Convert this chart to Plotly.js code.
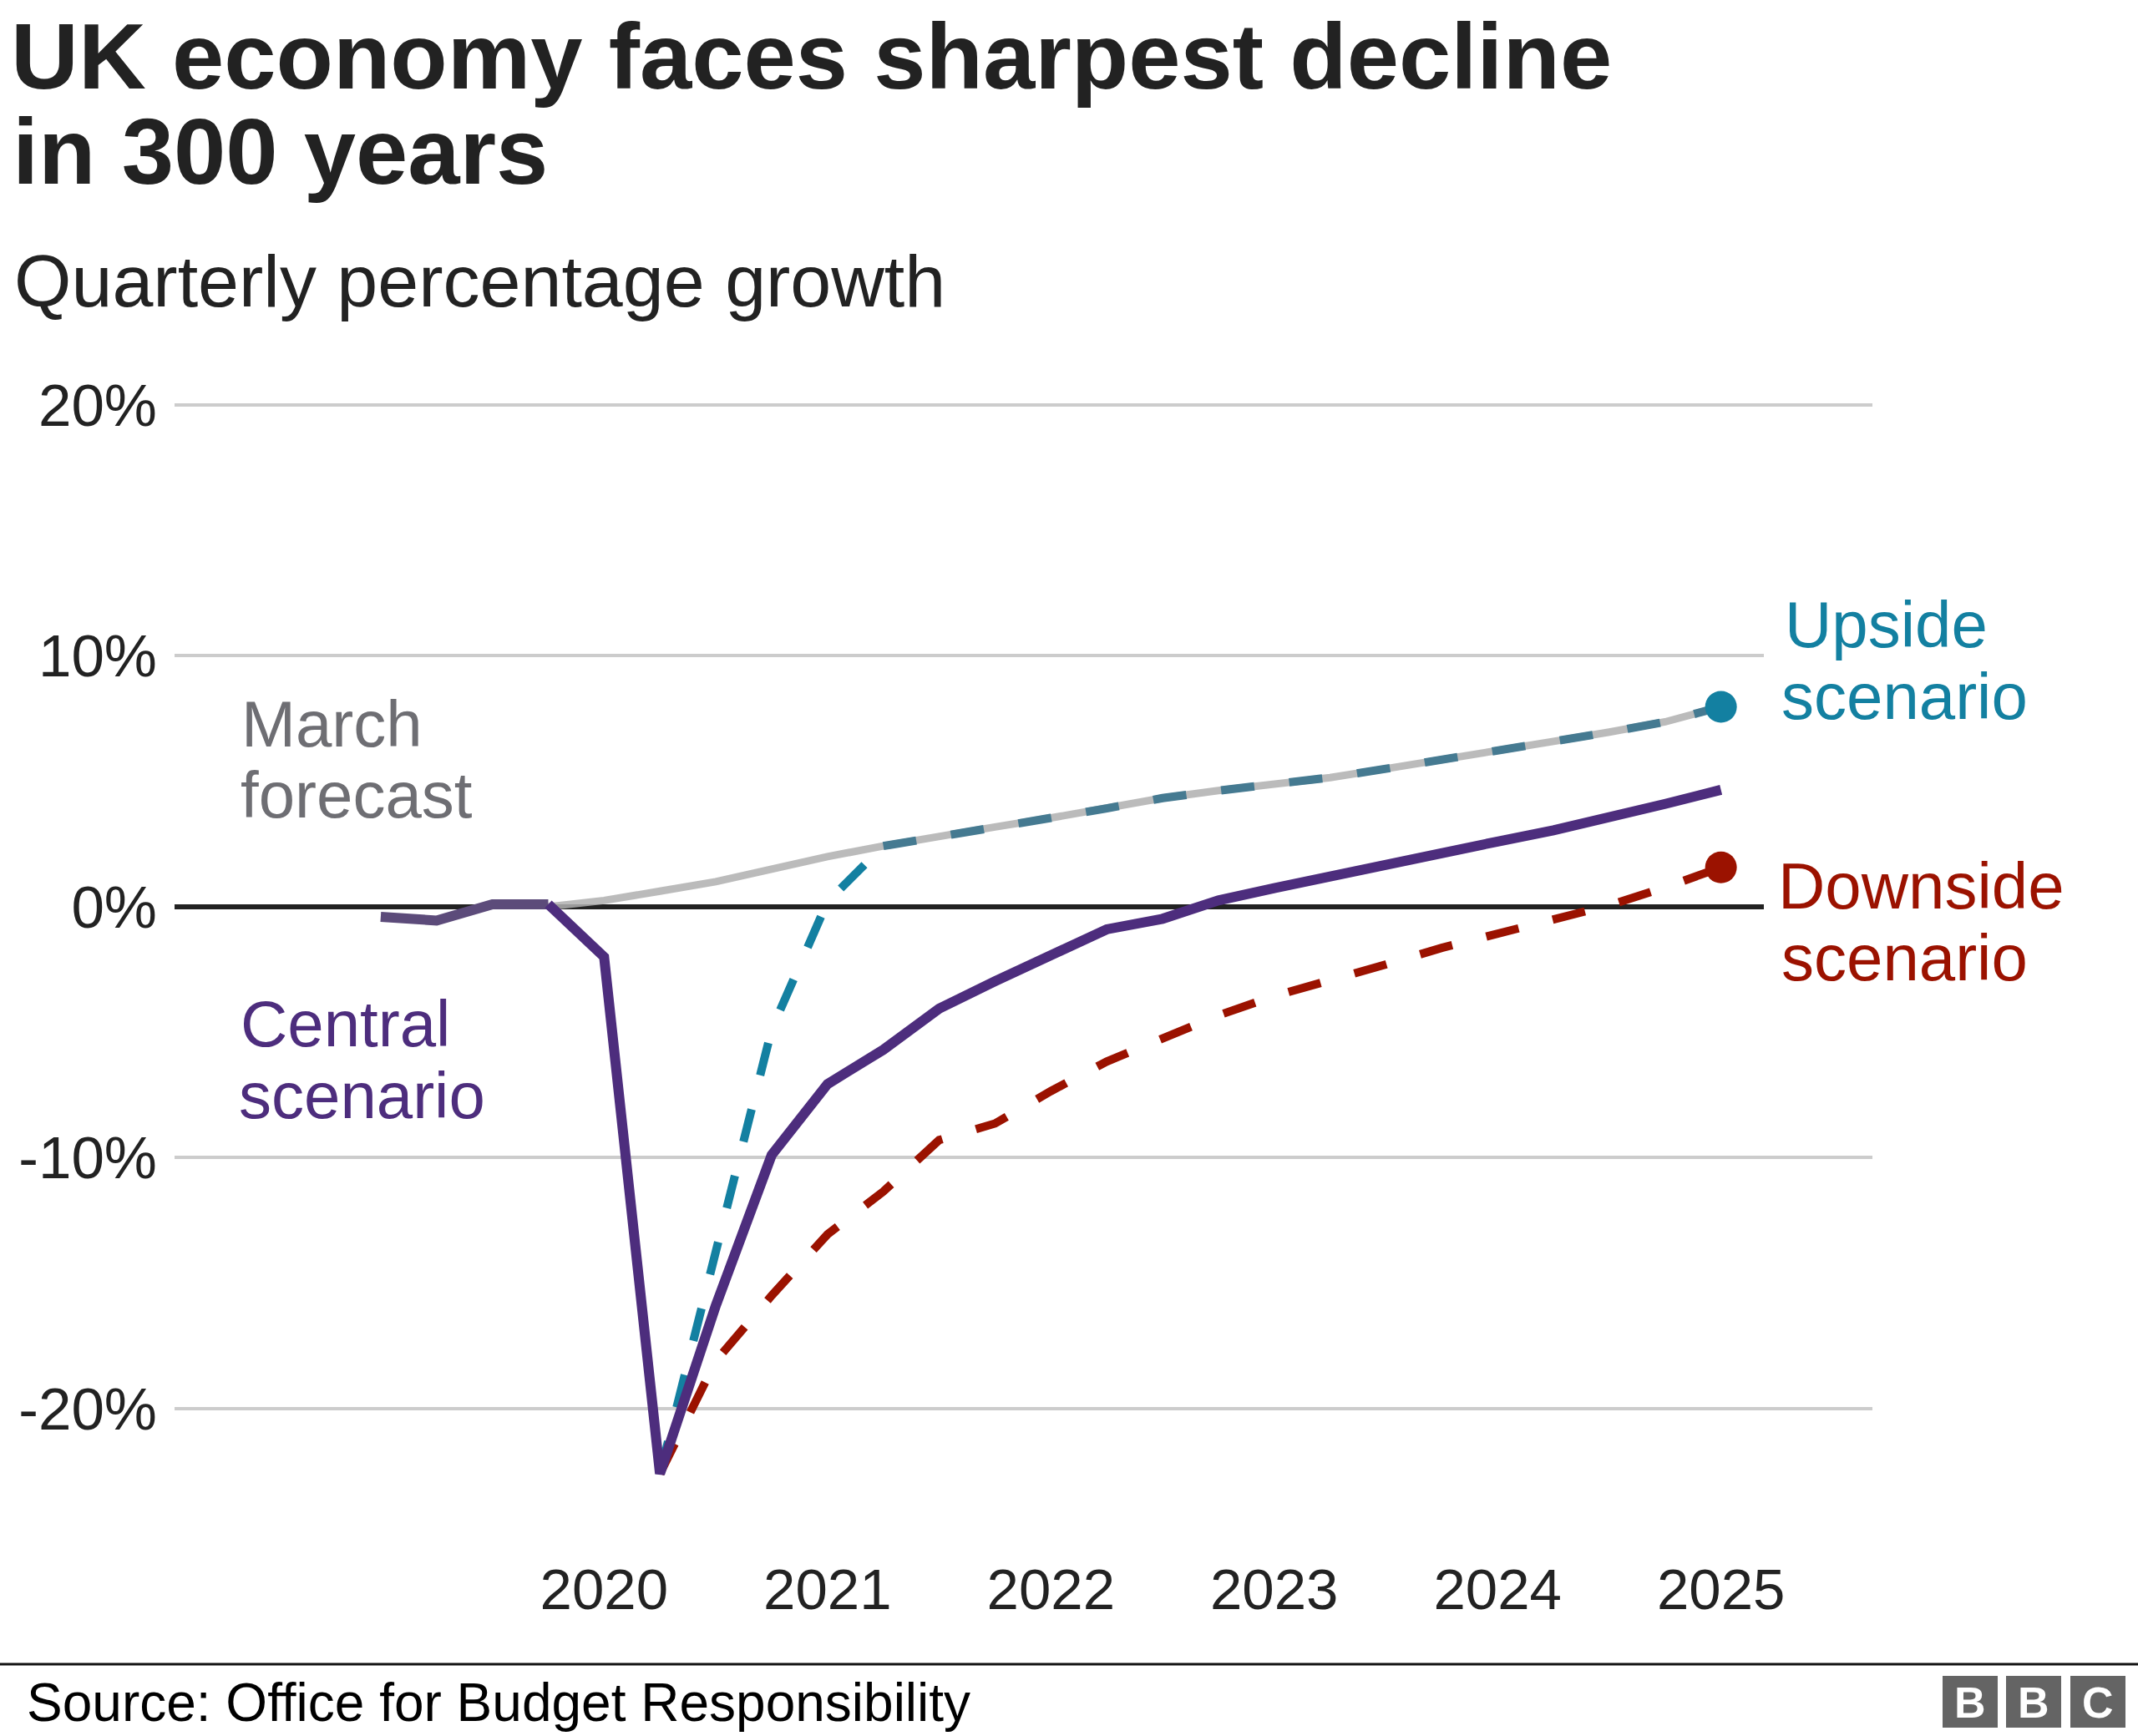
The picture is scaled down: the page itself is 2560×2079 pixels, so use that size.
<!DOCTYPE html>
<html>
<head>
<meta charset="utf-8">
<script src="https://cdn.plot.ly/plotly-3.0.1.min.js"></script>
<style>
html,body{margin:0;padding:0;background:#ffffff;}
#chart{width:2560px;height:2079px;}
</style>
</head>
<body>
<div id="chart"></div>
<script>
// ---------- DATA ----------
const quarters = [
  '2019 Q1','2019 Q2','2019 Q3','2019 Q4',
  '2020 Q1','2020 Q2','2020 Q3','2020 Q4',
  '2021 Q1','2021 Q2','2021 Q3','2021 Q4',
  '2022 Q1','2022 Q2','2022 Q3','2022 Q4',
  '2023 Q1','2023 Q2','2023 Q3','2023 Q4',
  '2024 Q1','2024 Q2','2024 Q3','2024 Q4',
  '2025 Q1'
];
// 2019 Q1 - 2019 Q4 (outturn)
const centralHistory = [-0.4, -0.55, 0.1, 0.1];
// 2019 Q4 - 2025 Q1
const centralScenario = [0.1, -2.0, -22.6, -15.9, -9.9, -7.07, -5.7, -4.06, -2.97, -1.92, -0.9,
  -0.48, 0.25, 0.74, 1.18, 1.7, 2.15, 2.6, 3.05, 3.55, 4.1, 4.66];
// 2019 Q4 - 2025 Q1
const marchForecast = [0, 0.25, 0.62, 1.0, 1.5, 2.0, 2.42, 2.82, 3.18, 3.54, 3.92,
  4.33, 4.63, 4.88, 5.15, 5.5, 5.84, 6.21, 6.59, 6.96, 7.37, 7.97];
// 2020 Q2 - 2025 Q1
const upsideScenario = [-22.6, -13.9, -4.9, 0.2, 2.42, 2.82, 3.18, 3.54, 3.92, 4.33,
  4.63, 4.88, 5.15, 5.5, 5.84, 6.21, 6.59, 6.96, 7.37, 7.97];
// 2020 Q2 - 2025 Q1
const downsideScenario = [-22.6, -18.1, -15.5, -13.06, -11.35, -9.3, -8.64, -7.35, -6.17, -5.22,
  -4.33, -3.56, -2.95, -2.3, -1.64, -1.05, -0.53, 0.06, 0.77, 1.57];

const yearTicks = [2020, 2021, 2022, 2023, 2024, 2025];
const yearLabels = ['2020', '2021', '2022', '2023', '2024', '2025'];
const yTicks = [-20, -10, 0, 10, 20];
const yLabels = ['-20%', '-10%', '0%', '10%', '20%'];

// ---------- helpers ----------
const qx = s => { const p = s.split(' Q'); return Number(p[0]) + (Number(p[1]) - 1) / 4; };
const X = quarters.map(qx);
const xHist = X.slice(0, 4);
const xCentral = X.slice(3);
const xScen = X.slice(5);
const upSplit = 4; // upside joins the March forecast at 2021 Q2

const W = 2560, H = 2079;
const M = {l: 209, r: 318, t: 470, b: 242};
const PW = W - M.l - M.r, PH = H - M.t - M.b;
const px = v => (v - M.l) / PW;
const py = v => (H - M.b - v) / PH;

const FONT = 'Liberation Sans, Arial, Helvetica, sans-serif';
const TEAL = '#1380a1', TEAL_ON_GREY = '#457a91', RED = '#9b1200',
      PURPLE = '#4d2d7d', PURPLE_HIST = '#5c4b7a', GREY = 'rgba(175,175,175,0.85)';
const DASH = '40px,42px';

const traces = [
  {x: xCentral, y: marchForecast, mode: 'lines', line: {color: GREY, width: 9}},
  {x: xScen.slice(0, upSplit + 1), y: upsideScenario.slice(0, upSplit + 1), mode: 'lines',
   line: {color: TEAL, width: 10, dash: DASH}},
  {x: xScen.slice(upSplit), y: upsideScenario.slice(upSplit), mode: 'lines',
   line: {color: TEAL_ON_GREY, width: 10, dash: DASH}},
  {x: xScen, y: downsideScenario, mode: 'lines', line: {color: RED, width: 10, dash: DASH}},
  {x: [xScen[xScen.length - 1]], y: [upsideScenario[upsideScenario.length - 1]], mode: 'markers',
   marker: {color: TEAL, size: 38}},
  {x: [xScen[xScen.length - 1]], y: [downsideScenario[downsideScenario.length - 1]], mode: 'markers',
   marker: {color: RED, size: 38}},
  {x: xHist, y: centralHistory, mode: 'lines', line: {color: PURPLE_HIST, width: 12}},
  {x: xCentral, y: centralScenario, mode: 'lines', line: {color: PURPLE, width: 12}}
];

function ann(text, x, y, size, color, extra) {
  return Object.assign({
    text: text, xref: 'paper', yref: 'paper', x: px(x), y: py(y),
    xanchor: 'left', yanchor: 'middle', showarrow: false,
    font: {family: FONT, size: size, color: color}
  }, extra || {});
}

const annotations = [
  ann('<b>in 300 years</b>', 13, 181, 112, '#222222'),
  ann('Quarterly percentage growth', 15, 336, 88, '#222222'),
  ann('March', 287, 867, 78, '#6e6e73'),
  ann('forecast', 286, 952, 78, '#6e6e73'),
  ann('Central', 286, 1226, 78, PURPLE),
  ann('scenario', 284, 1312, 78, PURPLE),
  ann('Upside', 2135, 748, 78, TEAL),
  ann('scenario', 2131, 834, 78, TEAL),
  ann('Downside', 2127, 1061, 78, RED),
  ann('scenario', 2131, 1147, 78, RED),
  ann('Source: Office for Budget Responsibility', 30, 2039, 64, '#000000'),
  ann('<b>B</b>', 2359, 2039, 52, '#ffffff', {xanchor: 'center'}),
  ann('<b>B</b>', 2435, 2039, 52, '#ffffff', {xanchor: 'center'}),
  ann('<b>C</b>', 2512, 2039, 52, '#ffffff', {xanchor: 'center'})
];

function rect(x0, y0, x1, y1, color) {
  return {type: 'rect', xref: 'paper', yref: 'paper', x0: px(x0), x1: px(x1), y0: py(y1), y1: py(y0),
          fillcolor: color, line: {width: 0}, layer: 'above'};
}
const shapes = [
  rect(2112, 776, 2250, 795, '#ffffff'),
  rect(2112, 1077, 2250, 1096, '#ffffff'),
  {type: 'line', xref: 'paper', yref: 'paper', x0: px(0), x1: px(W), y0: py(1993), y1: py(1993),
   line: {color: '#111111', width: 3}, layer: 'above'},
  rect(2326, 2007, 2392, 2069, '#646464'),
  rect(2402, 2007, 2468, 2069, '#646464'),
  rect(2479, 2007, 2545, 2069, '#646464')
];

const layout = {
  width: W, height: H,
  margin: M,
  paper_bgcolor: '#ffffff', plot_bgcolor: '#ffffff',
  showlegend: false, hovermode: false,
  font: {family: FONT, color: '#222222'},
  title: {
    text: '<b>UK economy faces sharpest decline</b>',
    xref: 'container', yref: 'container', x: 13 / W, y: 1 - 67 / H,
    xanchor: 'left', yanchor: 'middle',
    font: {family: FONT, size: 112, color: '#222222'}
  },
  xaxis: {
    range: [2018.077, 2025.678], showgrid: false, zeroline: false, showline: false,
    ticks: '', tickmode: 'array', tickvals: yearTicks, ticktext: yearLabels,
    tickfont: {family: FONT, size: 69, color: '#222222'}, ticklabelstandoff: 20,
    fixedrange: true
  },
  yaxis: {
    range: [-25, 20.5], tickmode: 'array', tickvals: yTicks, ticktext: yLabels,
    showgrid: true, gridcolor: '#cccccc', gridwidth: 4,
    zeroline: true, zerolinecolor: '#222222', zerolinewidth: 6,
    showline: false, ticks: '',
    tickfont: {family: FONT, size: 71, color: '#222222'}, ticklabelstandoff: 20,
    fixedrange: true
  },
  annotations: annotations,
  shapes: shapes
};

Plotly.newPlot('chart', traces, layout, {staticPlot: true, displayModeBar: false});
</script>
</body>
</html>
